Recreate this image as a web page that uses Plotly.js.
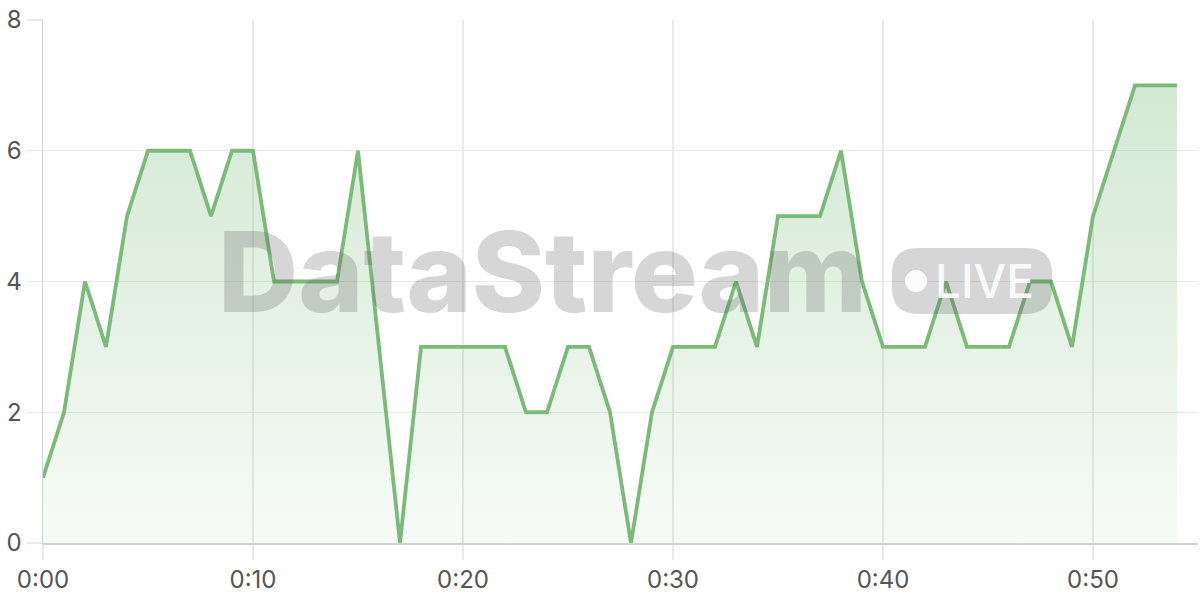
<!DOCTYPE html>
<html>
<head>
<meta charset="utf-8">
<script src="https://cdn.plot.ly/plotly-3.0.1.min.js"></script>
<style>
html,body{margin:0;padding:0;background:#fff;}
#chart{width:1200px;height:600px;}
</style>
</head>
<body>
<div id="chart"></div>
<script>
// Data: value per minute
const minutes = [];
for (let i = 0; i <= 54; i++) minutes.push(i);
const values = [1,2,4,3,5,6,6,6,5,6,6,4,4,4,4,6,3,0,3,3,3,3,3,2,2,3,3,2,0,2,3,3,3,4,3,5,5,5,6,4,3,3,3,4,3,3,3,4,4,3,5,6,7,7,7];
const xTickVals = [0,10,20,30,40,50];
const xTickText = ["0:00","0:10","0:20","0:30","0:40","0:50"];
const yTickVals = [0,2,4,6,8];
const watermarkMain = "DataStream";
const watermarkBadge = "LIVE";

const W = 1200, H = 600;
const M = {l:43, r:2, t:20, b:57};
const pw = W - M.l - M.r, ph = H - M.t - M.b;
function px(x){ return (x - M.l)/pw; }
function py(y){ return 1 - (y - M.t)/ph; }
function roundRect(x0,y0,x1,y1,r){
  return `M ${px(x0+r)} ${py(y0)} L ${px(x1-r)} ${py(y0)} Q ${px(x1)} ${py(y0)} ${px(x1)} ${py(y0+r)} ` +
         `L ${px(x1)} ${py(y1-r)} Q ${px(x1)} ${py(y1)} ${px(x1-r)} ${py(y1)} ` +
         `L ${px(x0+r)} ${py(y1)} Q ${px(x0)} ${py(y1)} ${px(x0)} ${py(y1-r)} ` +
         `L ${px(x0)} ${py(y0+r)} Q ${px(x0)} ${py(y0)} ${px(x0+r)} ${py(y0)} Z`;
}

const green = 'rgb(122,187,122)';
const trace = {
  x: minutes, y: values, type:'scatter', mode:'lines',
  line:{color:green, width:3.8},
  fill:'tozeroy',
  fillgradient:{type:'vertical', colorscale:[[0,'rgba(122,187,122,0.06)'],[1,'rgba(122,187,122,0.33)']]},
  hoverinfo:'skip'
};

const wmColor = 'rgba(90,90,90,0.25)';
const layout = {
  width:W, height:H,
  margin:M,
  paper_bgcolor:'#fff', plot_bgcolor:'#fff',
  showlegend:false,
  font:{family:'Inter, "Open Sans", sans-serif', color:'#555'},
  xaxis:{
    range:[0,55], tickvals:xTickVals, ticktext:xTickText,
    showgrid:true, gridcolor:'#e9e9e9', gridwidth:1.2,
    showline:true, linecolor:'#d2d2d2', linewidth:1.5,
    ticks:'outside', ticklen:15, tickcolor:'#e9e9e9', tickwidth:1.2,
    tickfont:{size:24, color:'#555'}, zeroline:false, fixedrange:true
  },
  yaxis:{
    range:[0,8], tickvals:yTickVals,
    showgrid:true, gridcolor:'#e9e9e9', gridwidth:1.2,
    showline:true, linecolor:'#d2d2d2', linewidth:1.5,
    ticks:'outside', ticklen:15, tickcolor:'#e9e9e9', tickwidth:1.2,
    tickfont:{size:24, color:'#555'}, zeroline:false, fixedrange:true
  },
  shapes:[
    {type:'path', xref:'paper', yref:'paper', path:roundRect(892,248,1052,314,26), fillcolor:wmColor, line:{width:0}, layer:'above'},
    {type:'circle', xref:'paper', yref:'paper', x0:px(905), x1:px(927), y0:py(270), y1:py(292), fillcolor:'rgba(255,255,255,0.9)', line:{width:0}, layer:'above'}
  ],
  annotations:[
    {text:watermarkMain, xref:'paper', yref:'paper', x:px(542), y:py(271), showarrow:false,
     font:{family:'Inter, "Open Sans", sans-serif', size:111, color:wmColor, weight:800}, xanchor:'center', yanchor:'middle'},
    {text:watermarkBadge, xref:'paper', yref:'paper', x:px(984), y:py(281), showarrow:false,
     font:{family:'Inter, "Open Sans", sans-serif', size:46, color:'rgba(255,255,255,0.9)', weight:500}, xanchor:'center', yanchor:'middle'}
  ]
};

Plotly.newPlot('chart',[trace],layout,{displayModeBar:false, staticPlot:true});
</script>
</body>
</html>
